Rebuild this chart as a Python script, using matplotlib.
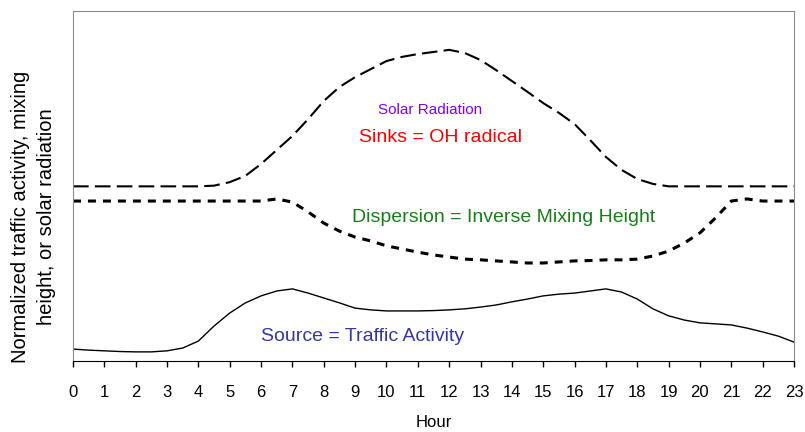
"""Diurnal profiles: traffic source, mixing-height dispersion and solar sink."""

import numpy as np
import matplotlib.pyplot as plt

plt.rcParams["font.family"] = ["Liberation Sans", "DejaVu Sans"]

# half-hourly values, normalised (0 = bottom of plot, 1 = top)
hours = np.arange(0, 23.5, 0.5)

traffic = [0.034, 0.031, 0.029, 0.027, 0.026, 0.026, 0.029, 0.037, 0.057, 0.100,
           0.137, 0.166, 0.186, 0.200, 0.206, 0.194, 0.180, 0.166, 0.151, 0.146,
           0.143, 0.143, 0.143, 0.144, 0.146, 0.149, 0.154, 0.160, 0.169, 0.177,
           0.186, 0.191, 0.194, 0.200, 0.206, 0.197, 0.177, 0.149, 0.129, 0.117,
           0.109, 0.106, 0.103, 0.094, 0.083, 0.071, 0.054]

solar = [0.499, 0.499, 0.499, 0.499, 0.499, 0.499, 0.499, 0.499, 0.499, 0.501,
         0.511, 0.529, 0.563, 0.603, 0.643, 0.691, 0.743, 0.783, 0.811, 0.834,
         0.857, 0.869, 0.877, 0.883, 0.889, 0.880, 0.860, 0.831, 0.800, 0.769,
         0.737, 0.709, 0.677, 0.631, 0.583, 0.546, 0.520, 0.506, 0.499, 0.499,
         0.499, 0.499, 0.499, 0.499, 0.499, 0.499, 0.499]

inv_mixing = [0.457, 0.457, 0.457, 0.457, 0.457, 0.457, 0.457, 0.457, 0.457, 0.457,
              0.457, 0.457, 0.457, 0.463, 0.454, 0.426, 0.394, 0.371, 0.354, 0.343,
              0.329, 0.320, 0.311, 0.303, 0.297, 0.291, 0.289, 0.286, 0.283, 0.280,
              0.280, 0.283, 0.286, 0.287, 0.289, 0.289, 0.291, 0.300, 0.314, 0.337,
              0.366, 0.409, 0.457, 0.463, 0.457, 0.457, 0.457]

hour_ticks = list(range(0, 24))

fig = plt.figure(figsize=(8.05, 4.32), dpi=100)
ax = fig.add_axes([0.0907, 0.1644, 0.8956, 0.8101])

ax.plot(hours, solar, color="black", lw=1.5, linestyle=(0, (7.5, 3)))
ax.plot(hours, inv_mixing, color="black", lw=2.2, linestyle=(0, (2.6, 2.3)))
ax.plot(hours, traffic, color="black", lw=1.0)

ax.text(11.39, 0.717, "Solar Radiation", color="#8000ff", fontsize=11,
        ha="center", va="center")
ax.text(11.71, 0.640, "Sinks = OH radical", color="#ff0000", fontsize=14,
        ha="center", va="center")
ax.text(13.73, 0.409, "Dispersion = Inverse Mixing Height", color="#168016",
        fontsize=14, ha="center", va="center")
ax.text(9.25, 0.069, "Source = Traffic Activity", color="#3636a8", fontsize=14,
        ha="center", va="center")

ax.set_xlim(0, 23)
ax.set_ylim(0, 1)
ax.set_xticks(hour_ticks)
ax.set_yticks([])
ax.tick_params(axis="x", direction="out", length=4, width=1, pad=13,
               labelsize=12)
for side in ("left", "top", "right"):
    ax.spines[side].set_color("#8c8c8c")
ax.spines["bottom"].set_color("black")

ax.set_xlabel("Hour", fontsize=12, labelpad=11)
ax.set_ylabel("Normalized traffic activity, mixing\nheight, or solar radiation",
              fontsize=14.5, linespacing=1.45)
ax.yaxis.set_label_coords(-0.024, 0.411)

fig.savefig("out.png", dpi=100)
